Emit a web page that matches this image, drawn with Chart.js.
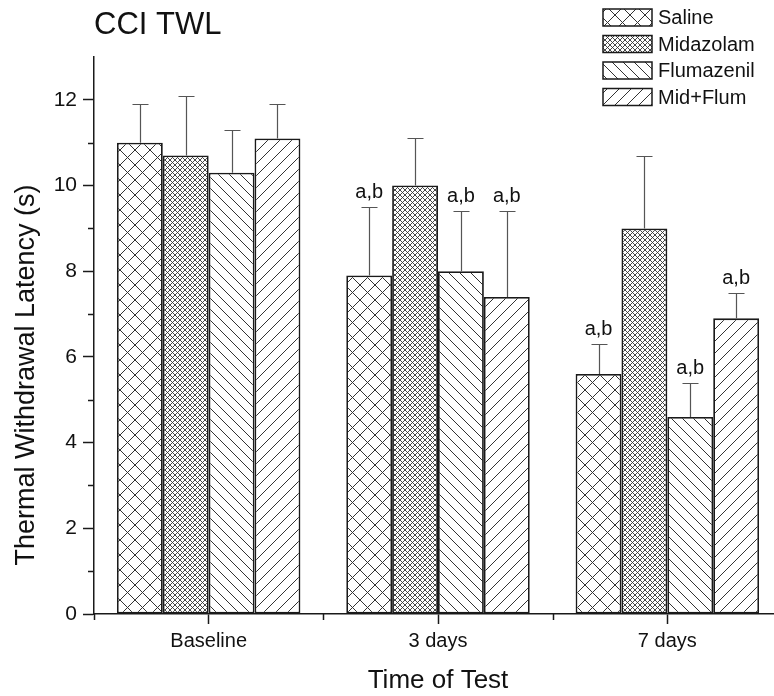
<!DOCTYPE html>
<html>
<head>
<meta charset="utf-8">
<script src="https://cdn.jsdelivr.net/npm/chart.js@4/dist/chart.umd.min.js"></script>
<style>
  html, body { margin: 0; padding: 0; background: #fff; overflow: hidden; }
  #wrap { width: 774px; height: 696px; overflow: hidden; }
</style>
</head>
<body>
<div id="wrap"><canvas id="c" width="782" height="696"></canvas></div>
<script>
// values
const categories = ['Baseline', '3 days', '7 days'];
const seriesNames = ['Saline', 'Midazolam', 'Flumazenil', 'Mid+Flum'];

const saline = [11.0, 7.9, 5.6];
const salineErr = [0.9, 1.6, 0.7];
const midazolam = [10.7, 10.0, 9.0];
const midazolamErr = [1.4, 1.1, 1.7];
const flumazenil = [10.3, 8.0, 4.6];
const flumazenilErr = [1.0, 1.4, 0.8];
const midFlum = [11.1, 7.4, 6.9];
const midFlumErr = [0.8, 2.0, 0.6];

const salineMarks = ['', 'a,b', 'a,b'];
const midazolamMarks = ['', '', ''];
const flumazenilMarks = ['', 'a,b', 'a,b'];
const midFlumMarks = ['', 'a,b', 'a,b'];

const yMin = 0;
const yMax = 13;

const FONT = '"Liberation Sans", Arial, sans-serif';
const INK = '#1a1a1a';

const canvas = document.getElementById('c');
const mainCtx = canvas.getContext('2d');

// hatch fill: '\\' lines, '/' lines or both
function hatch(size, kinds, lw) {
    const c = document.createElement('canvas');
    c.width = size;
    c.height = size;
    const g = c.getContext('2d');
    g.fillStyle = '#fff';
    g.fillRect(0, 0, size, size);
    g.strokeStyle = '#333';
    g.lineWidth = lw;
    g.beginPath();
    for (const k of [-1, 0, 1]) {
        if (kinds.includes('\\')) { g.moveTo(k * size, 0); g.lineTo(k * size + size, size); }
        if (kinds.includes('/')) { g.moveTo(k * size, size); g.lineTo(k * size + size, 0); }
    }
    g.stroke();
    return mainCtx.createPattern(c, 'repeat');
}

const fills = [
    hatch(15, '\\/', 1),
    hatch(5, '\\/', 0.9),
    hatch(11, '\\', 1),
    hatch(12, '/', 1)
];

function makeDataset(i, values, errors, marks) {
    return {
        label: seriesNames[i],
        data: values,
        errors: errors,
        marks: marks,
        backgroundColor: fills[i],
        borderColor: INK,
        borderWidth: 1.8,
        borderSkipped: false,
        barPercentage: 1,
        categoryPercentage: 0.8
    };
}

const overlay = {
    id: 'overlay',
    afterDatasetsDraw(chart) {
        const { ctx } = chart;
        const y = chart.scales.y;
        ctx.save();
        chart.data.datasets.forEach((ds, i) => {
            const meta = chart.getDatasetMeta(i);
            meta.data.forEach((bar, j) => {
                const top = Math.round(y.getPixelForValue(ds.data[j] + ds.errors[j])) + 0.5;
                const x = Math.round(bar.x) + 0.5;
                ctx.strokeStyle = '#555';
                ctx.lineWidth = 1.2;
                ctx.beginPath();
                ctx.moveTo(x, bar.y);
                ctx.lineTo(x, top);
                ctx.moveTo(x - 8, top);
                ctx.lineTo(x + 8, top);
                ctx.stroke();
                if (ds.marks[j]) {
                    ctx.fillStyle = '#111';
                    ctx.font = `20px ${FONT}`;
                    ctx.textAlign = 'center';
                    ctx.textBaseline = 'alphabetic';
                    ctx.fillText(ds.marks[j], bar.x, top - 10);
                }
            });
        });
        ctx.restore();
    },
    afterDraw(chart) {
        const { ctx, chartArea } = chart;
        const y = chart.scales.y;
        ctx.save();

        // minor ticks
        ctx.strokeStyle = INK;
        ctx.lineWidth = 1.5;
        ctx.beginPath();
        for (let v = 1; v < 12; v += 2) {
            const py = Math.round(y.getPixelForValue(v)) + 0.5;
            ctx.moveTo(chartArea.left, py);
            ctx.lineTo(chartArea.left - 6, py);
        }
        const slot = (chartArea.right - chartArea.left) / categories.length;
        for (let k = 0; k <= categories.length; k++) {
            const px = Math.round(chartArea.left + k * slot) + 0.5;
            ctx.moveTo(px, chartArea.bottom);
            ctx.lineTo(px, chartArea.bottom + 6);
        }
        ctx.stroke();

        // title
        ctx.fillStyle = '#111';
        ctx.font = `31px ${FONT}`;
        ctx.textAlign = 'left';
        ctx.textBaseline = 'alphabetic';
        ctx.fillText('CCI TWL', 94, 34);

        // y axis title
        ctx.save();
        ctx.translate(27, 375);
        ctx.rotate(-Math.PI / 2);
        ctx.font = `27px ${FONT}`;
        ctx.textAlign = 'center';
        ctx.textBaseline = 'middle';
        ctx.fillText('Thermal Withdrawal Latency (s)', 0, 0);
        ctx.restore();

        // legend
        chart.data.datasets.forEach((ds, i) => {
            const bx = 603, by = 9 + i * 26.5, bw = 49, bh = 17;
            ctx.fillStyle = ds.backgroundColor;
            ctx.fillRect(bx, by, bw, bh);
            ctx.strokeStyle = INK;
            ctx.lineWidth = 1.5;
            ctx.strokeRect(bx, by, bw, bh);
            ctx.fillStyle = '#111';
            ctx.font = `20px ${FONT}`;
            ctx.textAlign = 'left';
            ctx.textBaseline = 'middle';
            ctx.fillText(ds.label, 658, by + bh / 2 + 1);
        });
        ctx.restore();
    }
};

new Chart(canvas, {
    type: 'bar',
    data: {
        labels: categories,
        datasets: [
            makeDataset(0, saline, salineErr, salineMarks),
            makeDataset(1, midazolam, midazolamErr, midazolamMarks),
            makeDataset(2, flumazenil, flumazenilErr, flumazenilMarks),
            makeDataset(3, midFlum, midFlumErr, midFlumMarks)
        ]
    },
    options: {
        responsive: false,
        animation: false,
        layout: { padding: { top: 57, right: 0, bottom: 0, left: 0 } },
        plugins: {
            legend: { display: false },
            tooltip: { enabled: false },
            title: { display: false }
        },
        scales: {
            x: {
                afterFit: (s) => { s.height = 82; },
                border: { display: true, color: INK, width: 1.5 },
                grid: { display: true, drawOnChartArea: false, offset: false, tickLength: 10, tickColor: INK, tickWidth: 1.5 },
                ticks: { color: '#111', font: { family: FONT, size: 20 }, padding: 5, maxRotation: 0 },
                title: { display: true, text: 'Time of Test', color: '#111', font: { family: FONT, size: 26 }, padding: 0 }
            },
            y: {
                min: yMin,
                max: yMax,
                afterFit: (s) => { s.width = 94; },
                border: { display: true, color: INK, width: 1.5 },
                grid: {
                    display: true,
                    drawOnChartArea: false,
                    tickLength: 11,
                    tickWidth: 1.5,
                    tickColor: (ctx) => (ctx.tick && ctx.tick.value % 2 === 0 ? INK : 'rgba(0,0,0,0)')
                },
                ticks: {
                    stepSize: 1,
                    autoSkip: false,
                    color: '#111',
                    font: { family: FONT, size: 21 },
                    padding: 6,
                    callback: (v) => (v % 2 === 0 && v <= 12 ? String(v) : '')
                }
            }
        }
    },
    plugins: [overlay]
});
</script>
</body>
</html>
